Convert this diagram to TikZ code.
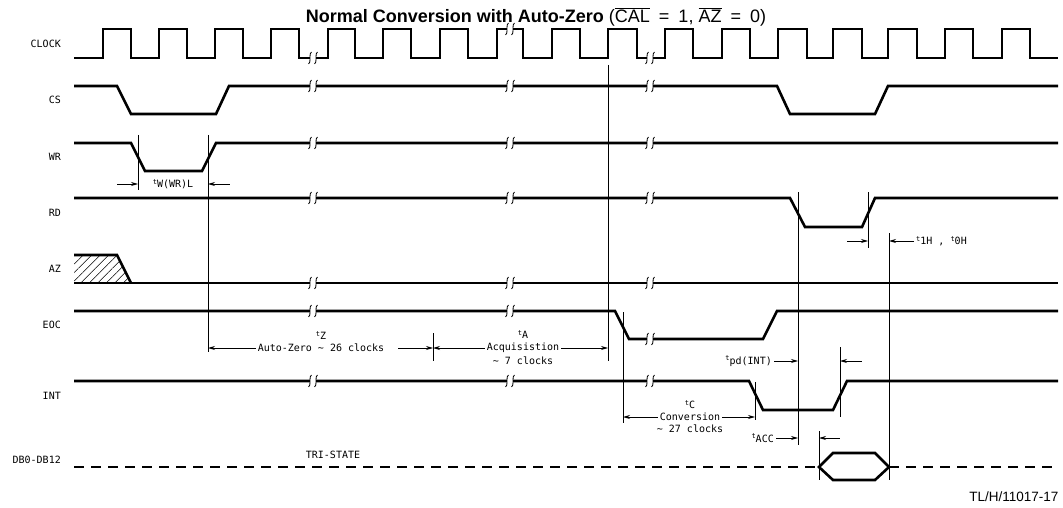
\documentclass[tikz,border=0pt]{standalone}
\usepackage{fontspec}
\setmainfont{Liberation Sans}
\newfontfamily\plotfont{DejaVu Sans Mono}
\usepackage{tikz}
\usetikzlibrary{arrows.meta,patterns.meta}
\newcommand{\tsym}[1]{\raisebox{.6ex}{\scriptsize t}#1}
\newcommand{\sbreak}[2]{%
  \fill[white] (#1-3,#2-2) rectangle (#1+3,#2+2);
  \draw[line width=0.8pt] (#1-1.5,#2-6) .. controls (#1-4.5,#2-6) and (#1-1.5,#2+6) .. (#1-4.5,#2+6);
  \draw[line width=0.8pt] (#1+4.5,#2-6) .. controls (#1+1.5,#2-6) and (#1+4.5,#2+6) .. (#1+1.5,#2+6);}

\begin{document}
\begin{tikzpicture}[x=1pt,y=-1pt,>={Stealth[length=7pt,width=4pt]}]
	\tikzstyle{sig}=[line width=2.6pt]
	\tikzstyle{guide}=[line width=0.8pt]
	\tikzstyle{lbl}=[font=\plotfont\fontsize{10}{13.5}\selectfont, inner sep=2pt]
	\tikzstyle{signame}=[lbl, anchor=east]

	\useasboundingbox (0,0) rectangle (1063,508);

	\node[font=\fontsize{18}{20}\selectfont] (title) at (536,17)
		{\textbf{Normal Conversion with Auto-Zero} ($\overline{\mbox{CAL}}$\enspace=\enspace1, $\overline{\mbox{AZ}}$\enspace=\enspace0)};

	% signal names
	\node[signame] (clk) at (63,44) {CLOCK};
	\node[signame] (cs) at (63,100) {CS};
	\node[signame] (wr) at (63,157) {WR};
	\node[signame] (rd) at (63,213) {RD};
	\node[signame] (az) at (63,269) {AZ};
	\node[signame] (eoc) at (63,325) {EOC};
	\node[signame] (int) at (63,396) {INT};
	\node[signame] (db) at (63,460) {DB0-DB12};

	% waveforms
	\draw[sig] (74,58) foreach \r/\f in {103/131,159/187,215/243,271/299,328/355,383/411,440/468,497/523,
		552/580,608/637,665/693,722/750,778/807,833/862,888/917,945/973,1002/1030}
		{ -- (\r,58) -- (\r,29) -- (\f,29) -- (\f,58) } -- (1058,58);
	\draw[sig] (74,86) -- (117,86) -- (131,114) -- (216,114) -- (229,86) -- (777,86)
		-- (790,114) -- (875,114) -- (888,86) -- (1058,86);
	\draw[sig] (74,143) -- (131,143) -- (145,171) -- (202,171) -- (216,143) -- (1058,143);
	\draw[sig] (74,198) -- (790,198) -- (805,227) -- (862,227) -- (875,198) -- (1058,198);
	\fill[pattern={Lines[angle=45,distance=6pt,line width=0.5pt]}] (74,255) -- (117,255) -- (131,283) -- (74,283) -- cycle;
	\draw[sig] (74,255) -- (117,255) -- (131,283);
	\draw[sig] (74,283) -- (1058,283);
	\draw[sig] (74,311) -- (615,311) -- (629,339) -- (763,339) -- (777,311) -- (1058,311);
	\draw[sig] (74,381) -- (749,381) -- (763,410) -- (833,410) -- (847,381) -- (1058,381);
	\draw[sig, dash pattern=on 10pt off 7pt] (74,467) -- (819,467);
	\draw[sig] (819,467) -- (833,453) -- (875,453) -- (889,467) -- (875,480) -- (833,480) -- cycle;
	\draw[sig, dash pattern=on 10pt off 7pt] (889,467) -- (1058,467);

	% breaks
	\foreach \x in {313,510,650} {
		\foreach \y in {86,143,198,283,381} {\sbreak{\x}{\y}}
	}
	\sbreak{313}{58} \sbreak{510}{29} \sbreak{650}{58}
	\sbreak{313}{311} \sbreak{510}{311} \sbreak{650}{339}

	% timing marks
	\foreach \n/\x/\t/\b in {wrf/138/135/190, wrr/208/135/352, tzend/433/333/361, eocs/608/65/361,
		eocf/623/312/423, intf/755/382/420, rdf/798/192/445, rdr/868/192/248, dbe/889/233/480,
		intr/840/347/417, dbs/819/431/480}
		{ \coordinate (\n) at (\x,\t); \draw[guide] (\n) -- (\x,\b); }

	\node[lbl] (twr) at (173,184) {\tsym{W(WR)L}};
	\draw[guide,<-] (wrf |- twr) -- ++(-21,0);
	\draw[guide,<-] (wrr |- twr) -- ++(22,0);

	\node[lbl, label={[lbl]above:\tsym{Z}}] (tz) at (321,348) {Auto-Zero \textasciitilde{} 26 clocks};
	\draw[guide,<-] (wrr |- tz) -- (tz.west);
	\draw[guide,<-] (tzend |- tz) -- ++(-35,0);

	\node[lbl, label={[lbl]above:\tsym{A}}, label={[lbl]below:\textasciitilde{} 7 clocks}] (ta) at (523,348) {Acquisistion};
	\draw[guide,<-] (tzend |- ta) -- (ta.west);
	\draw[guide,<-] (eocs |- ta) -- (ta.east);

	\node[lbl, label={[lbl]above:\tsym{C}}, label={[lbl]below:\textasciitilde{} 27 clocks}] (tc) at (690,417) {Conversion};
	\draw[guide,<-] (eocf |- tc) -- (tc.west);
	\draw[guide,<-] (intf |- tc) -- (tc.east);

	\node[lbl, anchor=east] (tpd) at (774,361) {\tsym{pd(INT)}};
	\draw[guide,->] (tpd.east) -- (rdf |- tpd);
	\draw[guide,<-] (intr |- tpd) -- ++(22,0);

	\node[lbl, anchor=east] (tacc) at (776,438) {\tsym{ACC}};
	\draw[guide,->] (tacc.east) -- (rdf |- tacc);
	\draw[guide,<-] (dbs |- tacc) -- ++(21,0);

	\node[lbl, anchor=west] (thold) at (914,241) {\tsym{1H} , \tsym{0H}};
	\draw[guide,->] (thold.west) -- (dbe |- thold);
	\draw[guide,<-] (rdr |- thold) -- ++(-21,0);

	\node[lbl] (tri) at (333,455) {TRI-STATE};
	\node[font=\fontsize{13.5}{16}\selectfont, anchor=east] (fig) at (1062,497) {TL/H/11017-17};
\end{tikzpicture}
\end{document}
